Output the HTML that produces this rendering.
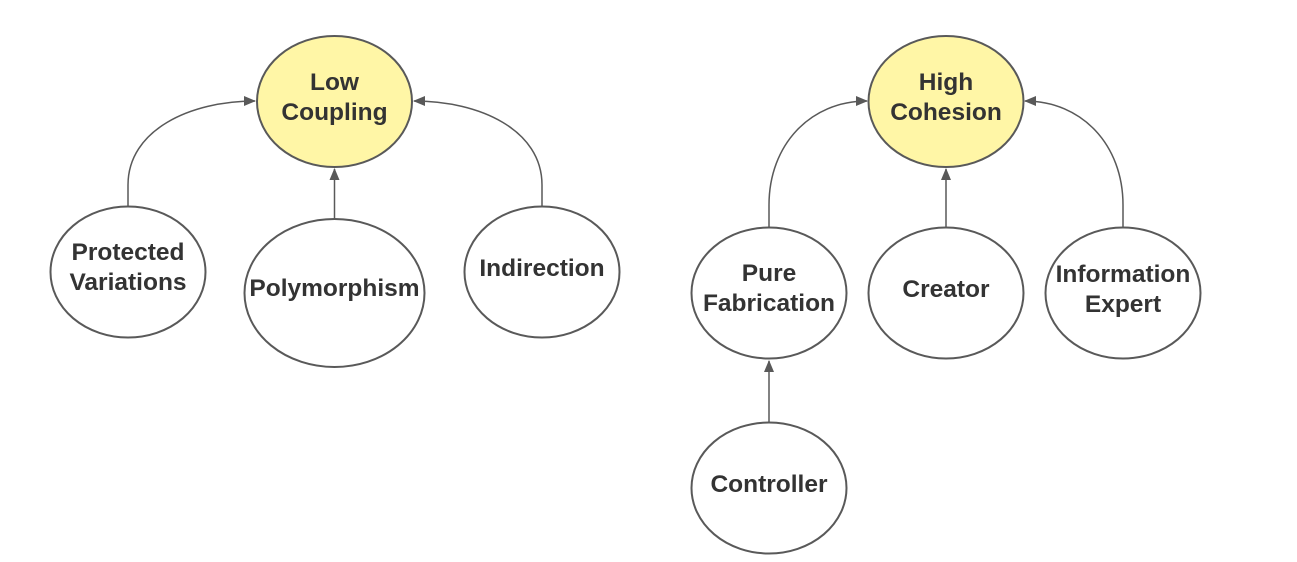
<!DOCTYPE html>
<html><head><style>
html,body{margin:0;padding:0;background:#fff;}
svg{display:block;}
text{font-family:"Liberation Sans",Arial,sans-serif;font-weight:bold;font-size:24.5px;fill:#333;text-anchor:middle;}
</style></head><body>
<svg width="1297" height="562" viewBox="0 0 1297 562" xmlns="http://www.w3.org/2000/svg">
<defs>
<marker id="a" markerWidth="12" markerHeight="10" refX="11" refY="5" orient="auto" markerUnits="userSpaceOnUse">
<path d="M0,0 L12,5 L0,10 z" fill="#595959"/>
</marker>
</defs>
<g stroke="#595959" stroke-width="1.5" fill="none">
<path d="M128,206 L128,185 C128,130 190,101 255,101" marker-end="url(#a)"/>
<path d="M542,206 L542,185 C542,130 480,101 414,101" marker-end="url(#a)"/>
<path d="M334.5,219 L334.5,169" marker-end="url(#a)"/>
<path d="M769,227 L769,205 C769,145 810,101 867,101" marker-end="url(#a)"/>
<path d="M1123,227 L1123,205 C1123,145 1082,101 1025,101" marker-end="url(#a)"/>
<path d="M946,227 L946,169" marker-end="url(#a)"/>
<path d="M769,422 L769,361" marker-end="url(#a)"/>
</g>
<g stroke="#595959" stroke-width="2">
<ellipse cx="334.5" cy="101.5" rx="77.5" ry="65.5" fill="#fff6a6"/>
<ellipse cx="946" cy="101.5" rx="77.5" ry="65.5" fill="#fff6a6"/>
<ellipse cx="128" cy="272" rx="77.5" ry="65.5" fill="#fff"/>
<ellipse cx="334.5" cy="293" rx="90" ry="74" fill="#fff"/>
<ellipse cx="542" cy="272" rx="77.5" ry="65.5" fill="#fff"/>
<ellipse cx="769" cy="293" rx="77.5" ry="65.5" fill="#fff"/>
<ellipse cx="946" cy="293" rx="77.5" ry="65.5" fill="#fff"/>
<ellipse cx="1123" cy="293" rx="77.5" ry="65.5" fill="#fff"/>
<ellipse cx="769" cy="488" rx="77.5" ry="65.5" fill="#fff"/>
</g>
<text x="334.5" y="90">Low</text>
<text x="334.5" y="120">Coupling</text>
<text x="946" y="90">High</text>
<text x="946" y="120">Cohesion</text>
<text x="128" y="260">Protected</text>
<text x="128" y="290">Variations</text>
<text x="334.5" y="296">Polymorphism</text>
<text x="542" y="276">Indirection</text>
<text x="769" y="281">Pure</text>
<text x="769" y="311">Fabrication</text>
<text x="946" y="297">Creator</text>
<text x="1123" y="282">Information</text>
<text x="1123" y="312">Expert</text>
<text x="769" y="492">Controller</text>
</svg>
</body></html>
